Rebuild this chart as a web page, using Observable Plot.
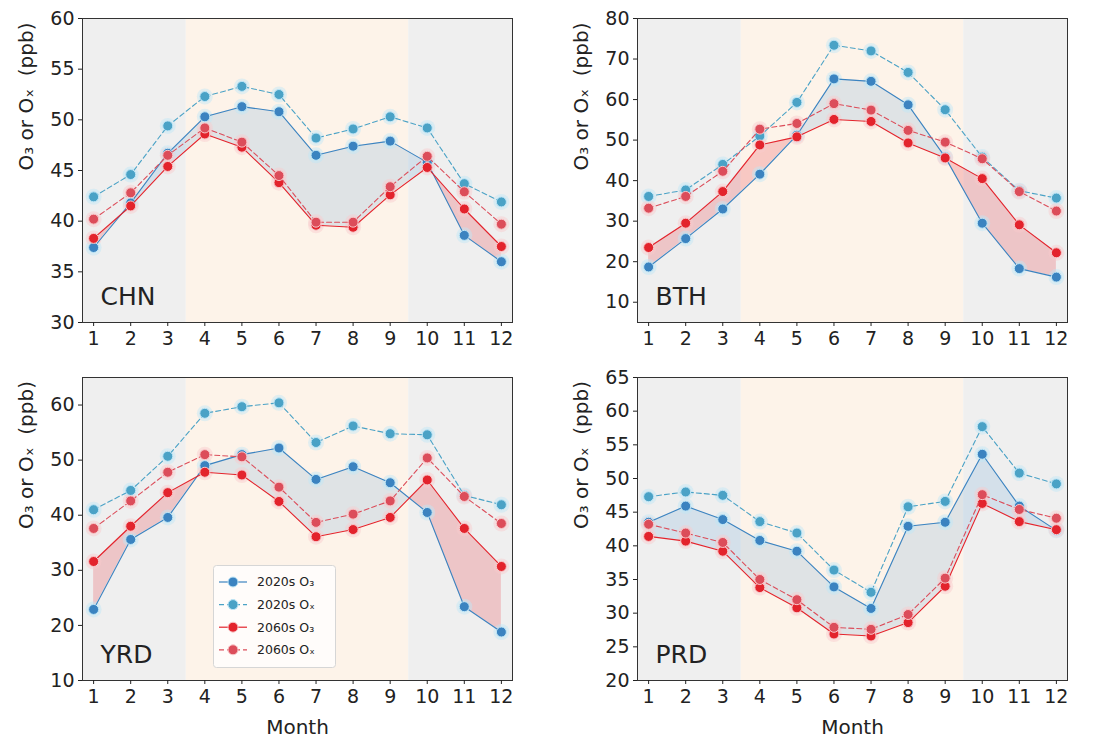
<!DOCTYPE html>
<html><head><meta charset="utf-8">
<script src="https://cdn.jsdelivr.net/npm/d3@7"></script>
<script src="https://cdn.jsdelivr.net/npm/@observablehq/plot@0.6"></script>
<style>
body{margin:0;background:#fff;font-family:"DejaVu Sans",sans-serif}
#wrap{position:relative;width:1115px;height:747px;overflow:hidden}
.panel{position:absolute}
</style></head><body><div id="wrap"></div>
<script>
// ---------- data ----------
const months = [1,2,3,4,5,6,7,8,9,10,11,12];
const regions = ["CHN","BTH","YRD","PRD"];
const seriesNames = ["2020s O₃","2020s Oₓ","2060s O₃","2060s Oₓ"];
const seriesColors = ["#3b83c0","#4aa2c6","#e3232c","#dc4d5a"];
const haloColors = ["#bfe6f7","#bfe6f7","#f9c9cb","#f9c9cb"];
const seriesDash = [null,"5,3",null,"5,3"];

const chnO3_2020 = [37.4,41.8,46.7,50.3,51.3,50.8,46.5,47.4,47.9,45.8,38.6,36.0];
const chnOx_2020 = [42.4,44.6,49.4,52.3,53.3,52.5,48.2,49.1,50.3,49.2,43.7,41.9];
const chnO3_2060 = [38.3,41.5,45.4,48.6,47.3,43.8,39.6,39.4,42.6,45.3,41.2,37.5];
const chnOx_2060 = [40.2,42.8,46.5,49.2,47.8,44.5,39.9,39.9,43.4,46.4,42.9,39.7];

const bthO3_2020 = [18.7,25.7,33.0,41.6,51.2,65.1,64.5,58.7,45.8,29.5,18.3,16.2];
const bthOx_2020 = [36.1,37.7,44.0,51.0,59.3,73.4,72.0,66.7,57.5,45.8,37.5,35.7];
const bthO3_2060 = [23.5,29.5,37.3,48.8,50.8,55.1,54.6,49.3,45.6,40.5,29.1,22.2];
const bthOx_2060 = [33.2,36.1,42.3,52.7,54.1,59.0,57.4,52.4,49.5,45.4,37.3,32.5];

const yrdO3_2020 = [22.9,35.6,39.6,49.0,51.0,52.2,46.5,48.8,45.9,40.5,23.4,18.8];
const yrdOx_2020 = [41.0,44.5,50.7,58.5,59.7,60.4,53.2,56.2,54.8,54.6,43.6,41.9];
const yrdO3_2060 = [31.6,38.0,44.1,47.8,47.3,42.5,36.1,37.4,39.6,46.4,37.6,30.7];
const yrdOx_2060 = [37.6,42.6,47.8,51.0,50.6,45.1,38.7,40.2,42.6,50.4,43.4,38.5];

const prdO3_2020 = [43.5,45.9,43.9,40.8,39.2,33.9,30.7,42.9,43.5,53.6,45.9,42.3];
const prdOx_2020 = [47.3,48.0,47.5,43.6,41.9,36.4,33.1,45.8,46.6,57.7,50.8,49.2];
const prdO3_2060 = [41.4,40.7,39.2,33.8,30.8,26.9,26.6,28.6,34.0,46.3,43.6,42.4];
const prdOx_2060 = [43.2,41.9,40.5,35.0,32.0,27.9,27.6,29.8,35.2,47.6,45.4,44.1];

const yDomains = {CHN:[30,60], BTH:[5,80], YRD:[10,65], PRD:[20,65]};
const yTicks = {
  CHN:[30,35,40,45,50,55,60],
  BTH:[10,20,30,40,50,60,70,80],
  YRD:[10,20,30,40,50,60],
  PRD:[20,25,30,35,40,45,50,55,60,65]
};
const xDomain = [0.7, 12.3];
const seasonStart = [0.7, 3.5, 9.5];
const seasonEnd   = [3.5, 9.5, 12.3];
const seasonFill  = ["#efefef","#fdf3e9","#efefef"];
const yLabel = "O₃ or Oₓ  (ppb)";
const xLabel = "Month";

const regionSeries = {
  CHN:[chnO3_2020,chnOx_2020,chnO3_2060,chnOx_2060],
  BTH:[bthO3_2020,bthOx_2020,bthO3_2060,bthOx_2060],
  YRD:[yrdO3_2020,yrdOx_2020,yrdO3_2060,yrdOx_2060],
  PRD:[prdO3_2020,prdOx_2020,prdO3_2060,prdOx_2060]
};

// ---------- layout ----------
const W = 557;
const layout = {
  CHN:{left:0,   top:0,   height:365, mb:43, showX:false},
  BTH:{left:555, top:0,   height:365, mb:43, showX:false},
  YRD:{left:0,   top:359, height:388, mb:67, showX:true},
  PRD:{left:555, top:359, height:388, mb:67, showX:true}
};

function fillRows(b, r) {
  const out = [];
  for (let i = 0; i < months.length; i++) {
    out.push({x: months[i], b: b[i], r: r[i]});
    if (i < months.length - 1) {
      const d0 = b[i] - r[i], d1 = b[i+1] - r[i+1];
      if (d0 * d1 < 0) {
        const t = d0 / (d0 - d1);
        const y = b[i] + t * (b[i+1] - b[i]);
        out.push({x: months[i] + t, b: y, r: y});
      }
    }
  }
  return out;
}

const wrap = document.getElementById("wrap");

for (const reg of regions) {
  const L = layout[reg];
  const S = regionSeries[reg];
  const bands = seasonStart.map((s, i) => ({x1: s, x2: seasonEnd[i], fill: seasonFill[i]}));
  const rows = fillRows(S[0], S[2]);
  const marks = [
    Plot.rect(bands, {x1: "x1", x2: "x2", fill: "fill"}),
    Plot.areaY(rows, {x: "x", y1: "r", y2: d => Math.max(d.b, d.r), fill: "#5b9bd5", fillOpacity: 0.18, curve: "linear"}),
    Plot.areaY(rows, {x: "x", y1: "b", y2: d => Math.max(d.b, d.r), fill: "#e8303a", fillOpacity: 0.22, curve: "linear"})
  ];
  S.forEach((vals, k) => {
    const data = months.map((m, i) => ({m, v: vals[i]}));
    marks.push(Plot.dot(data, {x: "m", y: "v", r: 8, fill: haloColors[k], fillOpacity: 0.45}));
  });
  S.forEach((vals, k) => {
    const data = months.map((m, i) => ({m, v: vals[i]}));
    marks.push(Plot.line(data, {x: "m", y: "v", stroke: seriesColors[k], strokeWidth: 1.1, strokeDasharray: seriesDash[k] || undefined}));
    marks.push(Plot.dot(data, {x: "m", y: "v", r: 5, fill: seriesColors[k], stroke: haloColors[k], strokeWidth: 1}));
  });
  marks.push(Plot.frame({stroke: "#333", strokeWidth: 1}));
  marks.push(Plot.axisY(yTicks[reg], {tickSize: 4, tickPadding: 4, fontSize: 19, label: null, tickFormat: d => String(d)}));
  marks.push(Plot.axisX(months, {tickSize: 4, tickPadding: 5, fontSize: 19, label: null, tickFormat: d => String(d)}));
  marks.push(Plot.text([yLabel], {text: d => d, frameAnchor: "left", rotate: -90, dx: -56, fontSize: 20, fill: "#222"}));
  marks.push(Plot.text([reg], {text: d => d, frameAnchor: "bottom-left", dx: 18, dy: -18, textAnchor: "start", lineAnchor: "bottom", fontSize: 25, fill: "#222"}));
  if (L.showX) marks.push(Plot.text([xLabel], {text: d => d, frameAnchor: "bottom", dy: 53, fontSize: 20, fill: "#222"}));

  const svg = Plot.plot({
    width: W, height: L.height,
    marginLeft: 82, marginRight: W - 82 - 430, marginTop: 18, marginBottom: L.mb,
    x: {domain: xDomain, type: "linear"},
    y: {domain: yDomains[reg], type: "linear"},
    style: {fontFamily: "DejaVu Sans", background: "transparent", overflow: "visible", color: "#222"},
    marks
  });
  svg.classList.add("panel");
  svg.style.left = L.left + "px";
  svg.style.top = L.top + "px";
  wrap.appendChild(svg);
}

// ---------- legend (inside YRD panel) ----------
const lg = d3.select(wrap).append("svg")
  .attr("class", "panel")
  .style("left", "213px").style("top", "565px")
  .attr("width", 124).attr("height", 104)
  .style("font-family", "DejaVu Sans");
lg.append("rect").attr("x", 0.5).attr("y", 0.5).attr("width", 122).attr("height", 102)
  .attr("rx", 3).attr("fill", "#fff").attr("fill-opacity", 0.75).attr("stroke", "#d6d6d6");
seriesNames.forEach((name, k) => {
  const y = 17 + k * 22.6;
  lg.append("line").attr("x1", 6).attr("x2", 34).attr("y1", y).attr("y2", y)
    .attr("stroke", seriesColors[k]).attr("stroke-width", 1.2)
    .attr("stroke-dasharray", seriesDash[k]);
  lg.append("circle").attr("cx", 20).attr("cy", y).attr("r", 5)
    .attr("fill", seriesColors[k]).attr("stroke", haloColors[k]);
  lg.append("text").attr("x", 44).attr("y", y).attr("dy", "0.35em")
    .attr("font-size", 12.5).attr("fill", "#222").text(name);
});
</script></body></html>
